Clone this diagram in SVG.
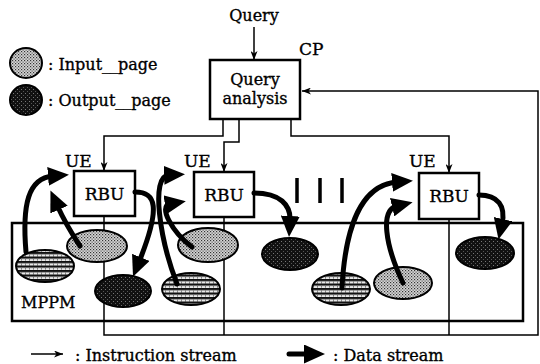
<svg xmlns="http://www.w3.org/2000/svg" width="540" height="364" viewBox="0 0 540 364">
<style>
  text { font-family: "DejaVu Serif", "Liberation Serif", serif; font-size: 16px; fill: #000; stroke: #000; stroke-width: 0.35; }
  .c { text-anchor: middle; }
  .box { fill: #fff; stroke: #000; stroke-width: 2.5; }
  .thin { fill: none; stroke: #000; stroke-width: 1.5; }
  .data { fill: none; stroke: #000; stroke-width: 5; stroke-linecap: round; }
  .ell { stroke: #000; stroke-width: 2; }
  .in { fill: url(#pIn); }
  .out { fill: url(#pOut); }
  .str { fill: url(#pStr); }
</style>
<defs>
  <pattern id="pIn" width="3" height="3" patternUnits="userSpaceOnUse">
    <rect width="3" height="3" fill="#d6d6d6"/>
    <rect width="1.2" height="1.2" fill="#333"/>
    <rect x="1.5" y="1.5" width="1.2" height="1.2" fill="#555"/>
  </pattern>
  <pattern id="pOut" width="4" height="4" patternUnits="userSpaceOnUse">
    <rect width="4" height="4" fill="#111"/>
    <rect x="1" y="1" width="1" height="1" fill="#777"/>
    <rect x="3" y="3" width="1" height="1" fill="#555"/>
  </pattern>
  <pattern id="pStr" width="4" height="4.5" patternUnits="userSpaceOnUse">
    <rect width="4" height="4.5" fill="#e8e8e8"/>
    <rect width="4" height="2.2" fill="#111"/>
    <rect x="1" y="3" width="1" height="1" fill="#444"/>
  </pattern>
  <marker id="ah" viewBox="0 0 9 7" refX="9" refY="3.5" markerWidth="9" markerHeight="7" markerUnits="userSpaceOnUse" orient="auto">
    <path d="M0,0 L9,3.5 L0,7 L2.5,3.5 z" fill="#000"/>
  </marker>
  <marker id="dh" viewBox="0 0 21 19" refX="5" refY="9.5" markerWidth="21" markerHeight="19" markerUnits="userSpaceOnUse" orient="auto">
    <path d="M0,0 L21,9.5 L0,19 z" fill="#000"/>
  </marker>
</defs>

<!-- legend -->
<g id="legend">
  <ellipse class="ell in" cx="26" cy="63" rx="16" ry="15"/>
  <text x="48" y="70">: Input__page</text>
  <ellipse class="ell out" cx="26" cy="100" rx="16" ry="15"/>
  <text x="48" y="106">: Output__page</text>
  <path class="thin" d="M31 354 H63" marker-end="url(#ah)"/>
  <text x="75" y="361">: Instruction stream</text>
  <path class="data" d="M289 354 H309" stroke-linecap="butt" marker-end="url(#dh)"/>
  <text x="333" y="361">: Data stream</text>
</g>

<!-- MPPM -->
<g id="mppm">
  <rect x="12" y="223" width="511" height="98" fill="none" stroke="#000" stroke-width="2.5"/>
  <text x="21" y="308">MPPM</text>
</g>

<!-- connectors (instruction stream) -->
<g id="connectors">
  <path class="thin" d="M254 27 V60" marker-end="url(#ah)"/>
  <path class="thin" d="M223 119 V136 H104 V171" marker-end="url(#ah)"/>
  <path class="thin" d="M239 119 V142 H224 V172" marker-end="url(#ah)"/>
  <path class="thin" d="M291 119 V136 H449 V173" marker-end="url(#ah)"/>
  <path class="thin" d="M104 216 V335 H538 V91 H302" marker-end="url(#ah)"/>
  <path class="thin" d="M224 217 V335"/>
  <path class="thin" d="M449 219 V335"/>
</g>

<!-- CP -->
<g id="cp">
  <rect class="box" x="210" y="60" width="90" height="59" stroke-width="3"/>
  <text class="c" x="255" y="85">Query</text>
  <text class="c" x="255" y="104">analysis</text>
  <text x="299" y="55" style="font-size:17px">CP</text>
  <text class="c" x="254" y="21">Query</text>
</g>

<!-- RBUs -->
<g id="rbu1">
  <rect class="box" x="74" y="171" width="61" height="45"/>
  <text class="c" x="104.5" y="200" style="font-size:17px">RBU</text>
  <text x="65" y="167" style="font-size:17px">UE</text>
</g>
<g id="rbu2">
  <rect class="box" x="194" y="172" width="60" height="45"/>
  <text class="c" x="224" y="201" style="font-size:17px">RBU</text>
  <text x="184" y="167" style="font-size:17px">UE</text>
</g>
<g id="rbu3">
  <rect class="box" x="419" y="173" width="60" height="46"/>
  <text class="c" x="449" y="202" style="font-size:17px">RBU</text>
  <text x="409" y="167" style="font-size:17px">UE</text>
</g>

<!-- dots between -->
<g id="ellipsis">
  <path d="M297 178 V203 M320 178 V203 M342 178 V203" stroke="#000" stroke-width="3.5"/>
</g>

<!-- pages -->
<g id="pages">
  <ellipse class="ell str" cx="45" cy="266" rx="29" ry="16"/>
  <ellipse class="ell in" cx="97" cy="246" rx="30" ry="16"/>
  <ellipse class="ell out" cx="123" cy="291" rx="28" ry="16"/>
  <ellipse class="ell str" cx="191" cy="289" rx="29" ry="16"/>
  <ellipse class="ell in" cx="208" cy="245" rx="30" ry="17"/>
  <ellipse class="ell out" cx="290" cy="254" rx="28" ry="16"/>
  <ellipse class="ell str" cx="341" cy="289" rx="29" ry="16"/>
  <ellipse class="ell in" cx="403" cy="283" rx="29" ry="16"/>
  <ellipse class="ell out" cx="485" cy="253" rx="29" ry="16"/>
</g>

<!-- data streams -->
<g id="data-streams">
  <path class="data" d="M26 252 C22 205 28 178 53 176" marker-end="url(#dh)"/>
  <path class="data" d="M80 246 Q66 225 57 205" marker-end="url(#dh)"/>
  <path class="data" d="M135 192 C155 192 162 205 139 262" marker-end="url(#dh)"/>
  <path class="data" d="M177 284 C160 240 150 176 169 175" marker-end="url(#dh)"/>
  <path class="data" d="M192 247 C172 232 158 206 170 204" marker-end="url(#dh)"/>
  <path class="data" d="M254 193 C280 193 291 205 290 221" marker-end="url(#dh)"/>
  <path class="data" d="M342 288 C345 230 360 185 397 182" marker-end="url(#dh)"/>
  <path class="data" d="M403 283 C385 245 380 210 397 206" marker-end="url(#dh)"/>
  <path class="data" d="M479 195 C498 195 506 206 502 224" marker-end="url(#dh)"/>
</g>
</svg>
